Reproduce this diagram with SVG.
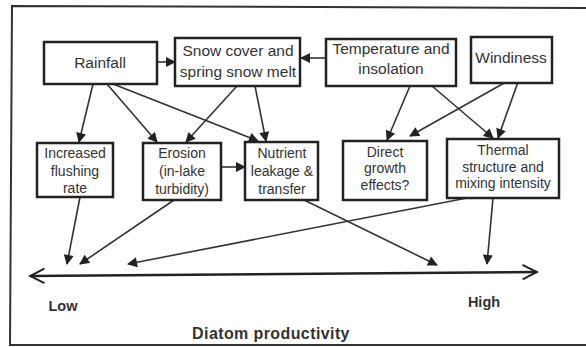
<svg xmlns="http://www.w3.org/2000/svg" width="586" height="347" viewBox="0 0 586 347">
<style>
.box{fill:#fff;stroke:#222;stroke-width:2.5}
.t{font-family:"Liberation Sans",Arial,sans-serif;font-size:15.5px;fill:#333;text-anchor:middle}
.s{font-size:14px}
.b{font-weight:bold;font-size:14.5px}
.c{stroke:#333;stroke-width:1.6;fill:none}
.frame{stroke:#333;stroke-width:2;fill:none}
</style>
<defs>
<marker id="ah2" viewBox="0 0 10 10" refX="9" refY="5" markerWidth="11" markerHeight="10" markerUnits="userSpaceOnUse" orient="auto">
<path d="M0,0 L10,5 L0,10 z" fill="#222"/>
</marker>
<marker id="open" viewBox="0 0 20 20" refX="18" refY="10" markerWidth="18" markerHeight="20" markerUnits="userSpaceOnUse" orient="auto-start-reverse">
<path d="M2,2 L18,10 L2,18" fill="none" stroke="#222" stroke-width="2.2"/>
</marker>
</defs>
<path class="frame" d="M586,8 L12,6 L10,345 L586,345"/>
<g id="connectors">
<line class="c" x1="157" y1="62" x2="175" y2="62" marker-end="url(#ah2)"/>
<line class="c" x1="326" y1="58" x2="301" y2="58" marker-end="url(#ah2)"/>
<line class="c" x1="93" y1="84" x2="79" y2="142" marker-end="url(#ah2)"/>
<line class="c" x1="107" y1="84" x2="157" y2="142" marker-end="url(#ah2)"/>
<line class="c" x1="113" y1="84" x2="258" y2="141" marker-end="url(#ah2)"/>
<line class="c" x1="237" y1="86" x2="186" y2="142" marker-end="url(#ah2)"/>
<line class="c" x1="255" y1="86" x2="266" y2="141" marker-end="url(#ah2)"/>
<line class="c" x1="221" y1="167" x2="245" y2="167" marker-end="url(#ah2)"/>
<line class="c" x1="410" y1="86" x2="387" y2="140" marker-end="url(#ah2)"/>
<line class="c" x1="432" y1="86" x2="493" y2="138" marker-end="url(#ah2)"/>
<line class="c" x1="506" y1="82" x2="410" y2="136" marker-end="url(#ah2)"/>
<line class="c" x1="518" y1="82" x2="498" y2="138" marker-end="url(#ah2)"/>
<line class="c" x1="80" y1="197" x2="67" y2="264" marker-end="url(#ah2)"/>
<line class="c" x1="174" y1="200" x2="80" y2="264" marker-end="url(#ah2)"/>
<line class="c" x1="467" y1="198" x2="128" y2="264" marker-end="url(#ah2)"/>
<line class="c" x1="300" y1="198" x2="437" y2="265" marker-end="url(#ah2)"/>
<line class="c" x1="493" y1="198" x2="487" y2="264" marker-end="url(#ah2)"/>
<line x1="30" y1="276" x2="537" y2="272" stroke="#222" stroke-width="2.4" marker-start="url(#open)" marker-end="url(#open)"/>
</g>
<g id="rainfall">
<rect class="box" x="44" y="42" width="113" height="42"/>
<text class="t" x="100" y="68">Rainfall</text>
</g>
<g id="snow">
<rect class="box" x="175" y="38" width="125" height="48"/>
<text class="t" x="238" y="56">Snow cover and</text>
<text class="t" x="238" y="77">spring snow melt</text>
</g>
<g id="temperature">
<rect class="box" x="326" y="39" width="130" height="47"/>
<text class="t" x="391" y="54">Temperature and</text>
<text class="t" x="391" y="74">insolation</text>
</g>
<g id="windiness">
<rect class="box" x="471" y="37" width="81" height="46"/>
<text class="t" x="511" y="63">Windiness</text>
</g>
<g id="flushing">
<rect class="box" x="37" y="143" width="76" height="54"/>
<text class="t s" x="75" y="158">Increased</text>
<text class="t s" x="75" y="176">flushing</text>
<text class="t s" x="75" y="193">rate</text>
</g>
<g id="erosion">
<rect class="box" x="143" y="143" width="78" height="57"/>
<text class="t s" x="182" y="158">Erosion</text>
<text class="t s" x="182" y="176">(in-lake</text>
<text class="t s" x="182" y="194">turbidity)</text>
</g>
<g id="nutrient">
<rect class="box" x="245" y="142" width="73" height="58"/>
<text class="t s" x="282" y="158">Nutrient</text>
<text class="t s" x="282" y="176">leakage &amp;</text>
<text class="t s" x="282" y="194">transfer</text>
</g>
<g id="direct">
<rect class="box" x="343" y="141" width="84" height="59"/>
<text class="t s" x="385" y="157">Direct</text>
<text class="t s" x="385" y="173">growth</text>
<text class="t s" x="385" y="190">effects?</text>
</g>
<g id="thermal">
<rect class="box" x="447" y="139" width="112" height="59"/>
<text class="t s" x="503" y="155">Thermal</text>
<text class="t s" x="503" y="172">structure and</text>
<text class="t s" x="503" y="188">mixing intensity</text>
</g>
<g id="labels">
<text class="t b" x="63" y="311">Low</text>
<text class="t b" x="484" y="307">High</text>
<text class="t b" x="271" y="339" style="font-size:16px;letter-spacing:0.4px">Diatom productivity</text>
</g>
</svg>
